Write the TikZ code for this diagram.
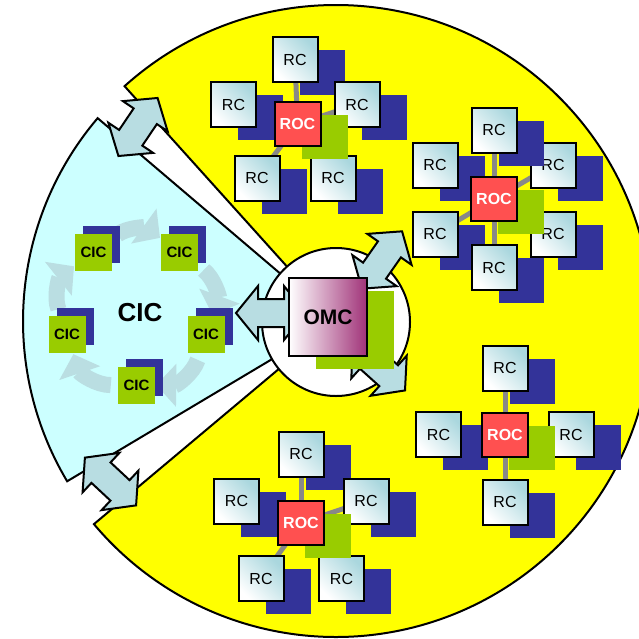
\documentclass[tikz,border=0pt]{standalone}
\usepackage{fontspec}
\setmainfont{Liberation Sans}
\usepackage{tikz}
\usetikzlibrary{arrows.meta}
\definecolor{sunyellow}{RGB}{255,255,0}
\definecolor{cicsky}{RGB}{204,255,255}
\definecolor{arrowgrey}{RGB}{184,221,226}
\definecolor{ringgrey}{RGB}{186,222,226}
\definecolor{shadeblue}{RGB}{51,51,153}
\definecolor{limegreen}{RGB}{153,204,0}
\definecolor{rocred}{RGB}{255,80,80}
\definecolor{rcteal}{RGB}{170,215,222}
\definecolor{omcplum}{RGB}{160,50,120}
\definecolor{linkgrey}{RGB}{136,136,136}
\pgfdeclarelayer{back}
\pgfdeclarelayer{links}
\pgfsetlayers{back,links,main}
\tikzset{
  rc/.style={
    draw=black, line width=2pt, inner sep=0pt,
    minimum width=45pt, minimum height=45pt,
    top color=rcteal, middle color=white, bottom color=white, shading angle=-45,
    font=\fontsize{16}{16}\selectfont,
    preaction={fill=shadeblue, transform canvas={shift={(27pt,-13pt)}}}
  },
  roc/.style={
    draw=black, line width=2pt, inner sep=0pt, fill=rocred, text=white,
    minimum width=46pt, minimum height=44pt,
    font=\bfseries\fontsize{16}{16}\selectfont,
    preaction={fill=limegreen, transform canvas={shift={(27pt,-13pt)}}}
  },
  omc/.style={
    draw=black, line width=2pt, inner sep=0pt, minimum size=78pt,
    left color=white, right color=omcplum,
    font=\bfseries\fontsize{21}{21}\selectfont,
    preaction={fill=limegreen, transform canvas={shift={(27pt,-13pt)}}}
  },
  cic/.style={
    fill=limegreen, inner sep=0pt, minimum size=37pt,
    font=\bfseries\fontsize{15}{15}\selectfont,
    preaction={fill=shadeblue, transform canvas={shift={(8pt,8pt)}}}
  },
  link/.style={draw=linkgrey, line width=5pt},
  ring/.style={draw=ringgrey, line width=16pt, shorten <=7pt, shorten >=1pt,
    -{Triangle[length=20pt,width=42pt]}},
  blockarrow/.style={draw=black, line width=2pt, fill=arrowgrey, line join=miter},
  dblarrow/.pic={
    \path[blockarrow] (35,0) -- (13,27) -- (13,14) -- (-13,14) -- (-13,27)
      -- (-35,0) -- (-13,-27) -- (-13,-14) -- (13,-14) -- (13,-27) -- cycle;
  }
}

\begin{document}
\begin{tikzpicture}[x=1pt,y=-1pt]
    \useasboundingbox (0,0) rectangle (639,638);

    \begin{pgfonlayer}{back}
        % yellow disc with the cut, cyan fan, white hub
        \path[draw=black, line width=2pt, fill=sunyellow]
            (336,321) -- ++(-132:316) arc[start angle=-132, end angle=140, radius=316] -- cycle;
        \path[draw=black, line width=2pt, fill=cicsky]
            (336,321) -- ++(-139.6:313) arc[start angle=-139.6, end angle=-210.8, radius=313] -- cycle;
        \path[draw=black, line width=2pt, fill=white] (336,322) circle[radius=74];

        \pic[rotate=56] at (138,127) {dblarrow};
        \pic at (271,313) {dblarrow};
        \pic[rotate=55] at (382,260) {dblarrow};
        \pic[rotate=-42] at (379,367) {dblarrow};
        \pic[rotate=-43] at (110.5,481.5) {dblarrow};
    \end{pgfonlayer}

    \node[omc] (omc) at (328,317) {OMC};

    % CIC ring
    \node[font=\bfseries\fontsize{26}{26}\selectfont] (ciclabel) at (140,313) {CIC};
    \node[cic] (cicul) at (93.5,252) {CIC};
    \node[cic] (cicur) at (179.5,252) {CIC};
    \node[cic] (cicr) at (206,334.5) {CIC};
    \node[cic] (cicb) at (136.5,385) {CIC};
    \node[cic] (cicl) at (67,334.5) {CIC};

    % north cluster
    \node[rc] (rcna) at (295,59.5) {RC};
    \node[rc] (rcnb) at (233.5,104.5) {RC};
    \node[rc] (rcnc) at (357,104.5) {RC};
    \node[rc] (rcnd) at (257,178) {RC};
    \node[rc] (rcne) at (333,178) {RC};
    \node[roc] (rocn) at (297.5,124) {ROC};

    % east cluster
    \node[rc] (rcea) at (553,165) {RC};
    \node[rc] (rceb) at (553,234) {RC};
    \node[rc] (rcec) at (494,130) {RC};
    \node[rc] (rced) at (435,165) {RC};
    \node[rc] (rcee) at (435,234) {RC};
    \node[rc] (rcef) at (494,267.5) {RC};
    \node[roc] (roce) at (494,199) {ROC};

    % south-east cluster
    \node[rc] (rcsea) at (505,368) {RC};
    \node[rc] (rcseb) at (438.5,434.5) {RC};
    \node[rc] (rcsec) at (571,434.5) {RC};
    \node[rc] (rcsed) at (505,502) {RC};
    \node[roc] (rocse) at (505,434.5) {ROC};

    % south cluster
    \node[rc] (rcsa) at (301,454) {RC};
    \node[rc] (rcsb) at (236.5,501) {RC};
    \node[rc] (rcsc) at (366,501) {RC};
    \node[rc] (rcsd) at (261,578.5) {RC};
    \node[rc] (rcse) at (341.5,578.5) {RC};
    \node[roc] (rocs) at (301,523) {ROC};

    \begin{pgfonlayer}{links}
        \draw[ring] (cicul) to[bend left=36] (cicur);
        \draw[ring] (cicur) to[bend left=36] (cicr);
        \draw[ring] (cicr) to[bend left=36] (cicb);
        \draw[ring] (cicb) to[bend left=36] (cicl);
        \draw[ring] (cicl) to[bend left=36] (cicul);

        \foreach \x in {a,b,c,d,e} \draw[link] (rocn.center) -- (rcn\x.center);
        \foreach \x in {a,b,c,d,e,f} \draw[link] (roce.center) -- (rce\x.center);
        \foreach \x in {a,b,c,d} \draw[link] (rocse.center) -- (rcse\x.center);
        \foreach \x in {a,b,c,d,e} \draw[link] (rocs.center) -- (rcs\x.center);
    \end{pgfonlayer}
\end{tikzpicture}
\end{document}
